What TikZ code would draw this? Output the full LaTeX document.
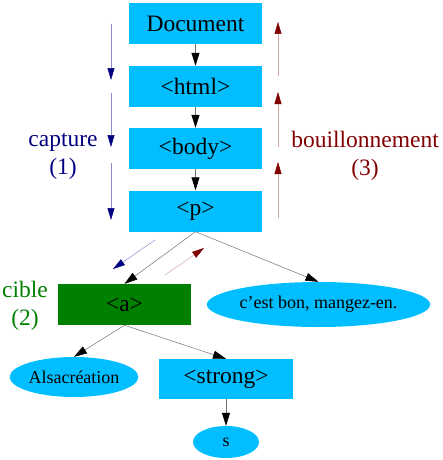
\documentclass[tikz,border=0pt]{standalone}
\usepackage{fontspec}
\setmainfont{Liberation Serif}
\usetikzlibrary{arrows.meta,shapes.geometric}
\definecolor{boxblue}{RGB}{0,190,255}
\definecolor{navyc}{RGB}{0,0,128}
\definecolor{maroonc}{RGB}{128,0,0}
\definecolor{greenc}{RGB}{0,128,0}
\tikzset{
  elem/.style={rectangle, fill=boxblue, draw=none, minimum width=133pt, minimum height=41pt, inner sep=0pt, font=\fontsize{23.5}{26}\selectfont},
  leaf/.style={ellipse, fill=boxblue, draw=none, inner sep=0pt, font=\fontsize{18}{20}\selectfont},
  arr/.style={draw=black!55, line width=0.5pt, -{Triangle[length=13pt,width=8pt,color=black]}},
  capt/.style={draw=navyc!45, line width=0.5pt, -{Triangle[length=12pt,width=7pt,color=navyc]}},
  bubl/.style={draw=maroonc!35, line width=0.5pt, -{Triangle[length=12pt,width=7pt,color=maroonc]}},
  lbl/.style={align=center, font=\fontsize{23.5}{28}\selectfont, inner sep=0pt}
}
\begin{document}
\begin{tikzpicture}[x=1pt,y=-1pt]
\useasboundingbox (0,0) rectangle (443,460);
% element boxes
\node[elem] (doc) at (195.5,23.5) {Document};
\node[elem] (html) at (195.5,86.5) {<html>};
\node[elem] (body) at (195.5,148.5) {<body>};
\node[elem] (p) at (195.5,211) {<p>};
\node[elem, fill=greenc] (a) at (124.5,304.5) {<a>};
\node[elem, minimum width=134pt, minimum height=40pt] (strong) at (226,379) {<strong>};
\node[leaf, minimum width=199pt, minimum height=45pt] (cest) at (318.5,304.5) {c’est bon, mangez-en.};
\node[leaf, minimum width=118pt, minimum height=40pt] (alsa) at (74,377) {Alsacréation};
\node[leaf, minimum width=66pt, minimum height=32pt] (s) at (226,442) {s};
% labels
\node[lbl, text=navyc] (capl) at (63,156) {capture\\(1)};
\node[lbl, text=maroonc] (bubll) at (365,156) {bouillonnement\\(3)};
\node[lbl, text=greenc] (cibl) at (25,306) {cible\\(2)};
% tree edges
\draw[arr] (doc.south) -- (html.north);
\draw[arr] (html.south) -- (body.north);
\draw[arr] (body.south) -- (p.north);
\draw[arr] (p.south) -- (a.north);
\draw[arr] (p.south) -- (cest.north);
\draw[arr] (a.south) -- (alsa.north);
\draw[arr] (a.south) -- (strong.north);
\draw[arr] (strong.south) -- (s.north);
% capture arrows
\coordinate (c1a) at (111,24);  \coordinate (c1b) at (111,80);
\coordinate (c2a) at (111,93);  \coordinate (c2b) at (111,147);
\coordinate (c3a) at (111,163); \coordinate (c3b) at (111,220);
\coordinate (c4a) at (155,240); \coordinate (c4b) at (113,269);
\draw[capt] (c1a) -- (c1b);
\draw[capt] (c2a) -- (c2b);
\draw[capt] (c3a) -- (c3b);
\draw[capt] (c4a) -- (c4b);
% bubbling arrows
\coordinate (b1a) at (278,76);  \coordinate (b1b) at (278,22);
\coordinate (b2a) at (278,147); \coordinate (b2b) at (278,92);
\coordinate (b3a) at (278,218); \coordinate (b3b) at (278,162);
\coordinate (b4a) at (165,275); \coordinate (b4b) at (204,248);
\draw[bubl] (b1a) -- (b1b);
\draw[bubl] (b2a) -- (b2b);
\draw[bubl] (b3a) -- (b3b);
\draw[bubl] (b4a) -- (b4b);
\end{tikzpicture}
\end{document}
